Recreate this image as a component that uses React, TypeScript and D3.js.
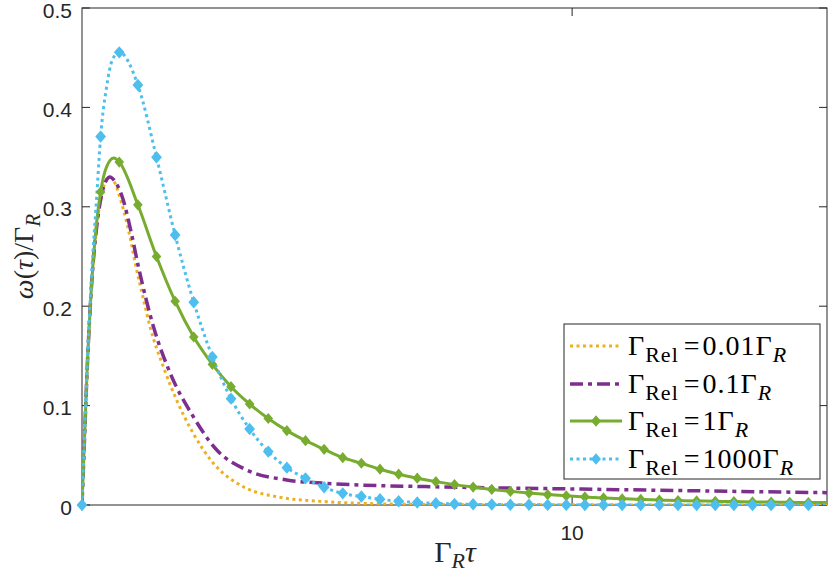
import React from "react";
import * as d3 from "d3";

// sampled read-off values, tau in units of 1/Gamma_R
const tauOrange = [0, 0.05, 0.1, 0.2, 0.3, 0.4, 0.5, 0.57, 0.65, 0.8, 1.0, 1.1, 1.25, 1.39, 1.66, 1.93, 2.27, 2.68, 3.29, 3.97, 4.99, 5.67, 7, 9, 12, 15.2];
const valOrange = [0, 0.065, 0.13, 0.225, 0.28, 0.312, 0.327, 0.33, 0.326, 0.305, 0.265, 0.24, 0.208, 0.179, 0.139, 0.1056, 0.072, 0.042, 0.0184, 0.0083, 0.0033, 0.0017, 0.0006, 0.0002, 0.0001, 0];

const tauPurple = [0, 0.05, 0.1, 0.2, 0.3, 0.4, 0.5, 0.57, 0.65, 0.84, 1.0, 1.15, 1.46, 1.8, 2.27, 2.75, 3.36, 4.18, 4.99, 5.67, 7, 8.5, 10.2, 12.5, 15.2];
const valPurple = [0, 0.065, 0.13, 0.225, 0.28, 0.312, 0.327, 0.33, 0.327, 0.307, 0.275, 0.24, 0.179, 0.1325, 0.0889, 0.0553, 0.0352, 0.0252, 0.0218, 0.0201, 0.0185, 0.0172, 0.016, 0.0143, 0.0124];

const markerTau = [0, 0.38, 0.76, 1.14, 1.52, 1.9, 2.28, 2.66, 3.04, 3.42, 3.8, 4.18, 4.56, 4.94, 5.32, 5.7, 6.08, 6.46, 6.84, 7.22, 7.6, 7.98, 8.36, 8.74, 9.12, 9.5, 9.88, 10.26, 10.64, 11.02, 11.4, 11.78, 12.16, 12.54, 12.92, 13.3, 13.68, 14.06, 14.44, 14.82];
const greenMarkers = [0, 0.315, 0.345, 0.302, 0.25, 0.205, 0.169, 0.1415, 0.119, 0.1016, 0.087, 0.0748, 0.0647, 0.056, 0.0476, 0.042, 0.036, 0.031, 0.027, 0.0235, 0.0205, 0.018, 0.0157, 0.0137, 0.012, 0.0105, 0.0092, 0.0081, 0.0071, 0.0063, 0.0056, 0.005, 0.0045, 0.0041, 0.0037, 0.0034, 0.0031, 0.0029, 0.0027, 0.0025];
const blueMarkers = [0, 0.3706, 0.4554, 0.4225, 0.3498, 0.2716, 0.204, 0.149, 0.107, 0.0765, 0.0537, 0.0376, 0.0268, 0.0178, 0.0117, 0.0085, 0.0058, 0.0038, 0.0025, 0.0017, 0.0011, 0.0007, 0.0005, 0.0003, 0.0002, 0.0001, 0.0001, 0, 0, 0, 0, 0, 0, 0, 0, 0, 0, 0, 0, 0];

// extra line samples between markers
const greenExtraTau = [0.05, 0.1, 0.2, 0.3, 0.5, 0.65, 15.2];
const greenExtraVal = [0.065, 0.13, 0.225, 0.285, 0.34, 0.349, 0.0024];
const blueExtraTau = [0.05, 0.1, 0.2, 0.3, 0.5, 0.62, 15.2];
const blueExtraVal = [0.07, 0.135, 0.235, 0.31, 0.42, 0.448, 0];

const yTicks = [0, 0.1, 0.2, 0.3, 0.4, 0.5];
const xTicks = [10];

const legendLabels = ["0.01", "0.1", "1", "1000"];

const width = 830,
  height = 575,
  margin = { top: 8, right: 3, bottom: 70, left: 82 };

const orange = "#EDB120",
  purple = "#7E2F8E",
  green = "#77AC30",
  blue = "#4DBEEE",
  axisColor = "#262626";

const zip = (t: number[], v: number[]) => t.map((d, i) => ({ t: d, v: v[i] }));
const merge = (a: { t: number; v: number }[], b: { t: number; v: number }[]) =>
  [...a, ...b].sort((p, q) => p.t - q.t);

const diamond = (cx: number, cy: number, w: number, h: number) =>
  `M${cx},${cy - h}L${cx + w},${cy}L${cx},${cy + h}L${cx - w},${cy}Z`;

const App: React.FC = () => {
  const x = d3
    .scaleLinear()
    .domain([0, 15.2])
    .range([margin.left, width - margin.right]);
  const y = d3
    .scaleLinear()
    .domain([0, 0.5])
    .range([height - margin.bottom, margin.top]);

  const line = d3
    .line<{ t: number; v: number }>()
    .x((d) => x(d.t))
    .y((d) => y(d.v))
    .curve(d3.curveMonotoneX);

  const orangeData = zip(tauOrange, valOrange);
  const purpleData = zip(tauPurple, valPurple);
  const greenMk = zip(markerTau, greenMarkers);
  const blueMk = zip(markerTau, blueMarkers);
  const greenData = merge(greenMk, zip(greenExtraTau, greenExtraVal));
  const blueData = merge(blueMk, zip(blueExtraTau, blueExtraVal));

  const x0 = margin.left,
    x1 = width - margin.right,
    y0 = height - margin.bottom,
    y1 = margin.top;

  const serif = "'Liberation Serif', 'DejaVu Serif', serif";
  const sans = "'Liberation Sans', Arial, sans-serif";

  const dotted = "3 3.5";
  const dashDot = "13 5 4 5";

  // legend
  const lg = { x: 564, y: 324, w: 256, h: 155 };
  const rowY = [346, 384, 421, 459];
  const series = [
    { color: orange, dash: dotted, width: 3, marker: false },
    { color: purple, dash: dashDot, width: 3.5, marker: false },
    { color: green, dash: "none", width: 3, marker: true },
    { color: blue, dash: dotted, width: 3, marker: true },
  ];

  return (
    <svg
      width={width}
      height={height}
      style={{ position: "absolute", left: 0, top: 0, background: "#fff" }}
    >
      <defs>
        <clipPath id="plot">
          <rect x={x0} y={y1} width={x1 - x0} height={y0 - y1} />
        </clipPath>
      </defs>

      {/* box + ticks */}
      <rect x={x0} y={y1} width={x1 - x0} height={y0 - y1} fill="none" stroke={axisColor} strokeWidth={1} />
      {yTicks.map((t) => (
        <g key={"y" + t}>
          <line x1={x0} x2={x0 + 8} y1={y(t)} y2={y(t)} stroke={axisColor} />
          <line x1={x1} x2={x1 - 8} y1={y(t)} y2={y(t)} stroke={axisColor} />
          <text x={x0 - 10} y={y(t) + 9.5} textAnchor="end" fontFamily={sans} fontSize={21} fill={axisColor}>
            {t === 0 ? "0" : t.toString()}
          </text>
        </g>
      ))}
      {xTicks.map((t) => (
        <g key={"x" + t}>
          <line x1={x(t)} x2={x(t)} y1={y0} y2={y0 - 8} stroke={axisColor} />
          <line x1={x(t)} x2={x(t)} y1={y1} y2={y1 + 8} stroke={axisColor} />
          <text x={x(t)} y={y0 + 35} textAnchor="middle" fontFamily={sans} fontSize={21} fill={axisColor}>
            {t}
          </text>
        </g>
      ))}

      {/* curves */}
      <g clipPath="url(#plot)" fill="none">
        <path d={line(orangeData)!} stroke={orange} strokeWidth={3} strokeDasharray={dotted} />
        <path d={line(purpleData)!} stroke={purple} strokeWidth={3.5} strokeDasharray={dashDot} />
        <path d={line(greenData)!} stroke={green} strokeWidth={3} />
        <path d={line(blueData)!} stroke={blue} strokeWidth={3} strokeDasharray={dotted} />
      </g>
      {greenMk.map((d, i) => (
        <path key={"g" + i} d={diamond(x(d.t), y(d.v), 4.8, 5.6)} fill={green} />
      ))}
      {blueMk.map((d, i) => (
        <path key={"b" + i} d={diamond(x(d.t), y(d.v), 5.4, 6.2)} fill={blue} />
      ))}

      {/* axis labels */}
      <text x={455} y={562} textAnchor="middle" fontFamily={serif} fontSize={30} fill={axisColor}>
        Γ
        <tspan fontStyle="italic" fontSize={22} dy={6}>R</tspan>
        <tspan fontStyle="italic" dy={-6}>τ</tspan>
      </text>
      <text
        transform={`translate(33,${(y0 + y1) / 2}) rotate(-90)`}
        textAnchor="middle"
        fontFamily={serif}
        fontSize={28}
        fill={axisColor}
      >
        <tspan fontStyle="italic">ω</tspan>(<tspan fontStyle="italic">τ</tspan>)/Γ
        <tspan fontStyle="italic" fontSize={21} dy={7}>R</tspan>
      </text>

      {/* legend */}
      <rect x={lg.x} y={lg.y} width={lg.w} height={lg.h} fill="#fff" stroke={axisColor} strokeWidth={1} />
      {series.map((s, i) => (
        <g key={"l" + i}>
          <line
            x1={570}
            x2={622}
            y1={rowY[i]}
            y2={rowY[i]}
            stroke={s.color}
            strokeWidth={s.width}
            strokeDasharray={s.dash}
          />
          {s.marker && <path d={diamond(596, rowY[i], 5, 5.8)} fill={s.color} />}
          <text x={628} y={rowY[i] + 9} fontFamily={serif} fontSize={28} letterSpacing={1} fill="#000">
            Γ
            <tspan fontSize={22} dy={7}>Rel</tspan>
            <tspan dx={5} dy={-7}>=</tspan>
            <tspan dx={2}>{legendLabels[i]}Γ</tspan>
            <tspan fontStyle="italic" fontSize={22} dy={7}>R</tspan>
          </text>
        </g>
      ))}
    </svg>
  );
};

export default App;
